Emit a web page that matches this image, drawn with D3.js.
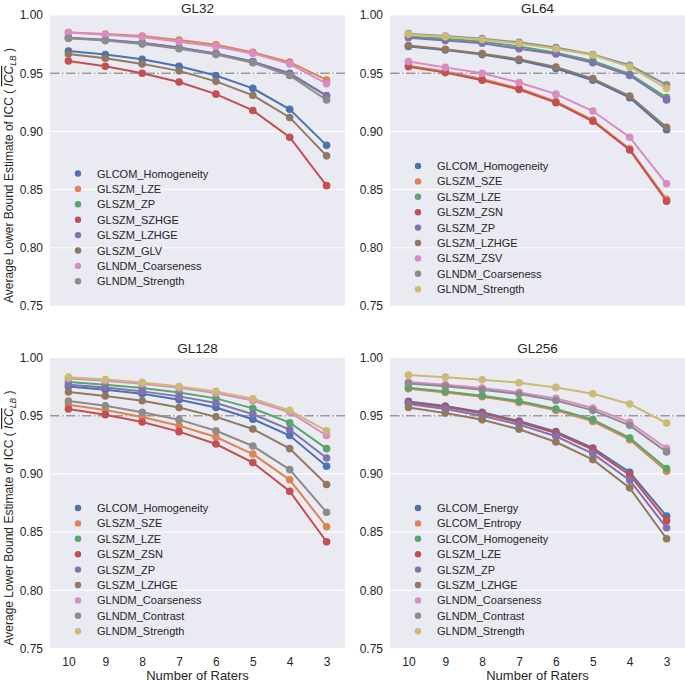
<!DOCTYPE html>
<html>
<head>
<meta charset="utf-8">
<script src="https://cdn.jsdelivr.net/npm/d3@7"></script>
<style>
  html, body { margin: 0; padding: 0; background: #fff; }
  svg { display: block; font-family: Arial, "Liberation Sans", sans-serif; }
</style>
</head>
<body>
<svg id="chart" width="685" height="681"></svg>
<script>
// ---------- data ----------
const raters = [10, 9, 8, 7, 6, 5, 4, 3];
const yTicks = [0.75, 0.80, 0.85, 0.90, 0.95, 1.00];
const threshold = 0.95;
const panelTitles = ["GL32", "GL64", "GL128", "GL256"];
const palette = ["#4C72B0", "#DD8452", "#55A868", "#C44E52", "#8172B3", "#937860", "#DA8BC3", "#8C8C8C", "#CCB974", "#64B5CD"];

const gl32Features = ["GLCOM_Homogeneity", "GLSZM_LZE", "GLSZM_ZP", "GLSZM_SZHGE", "GLSZM_LZHGE", "GLSZM_GLV", "GLNDM_Coarseness", "GLNDM_Strength"];
const gl32Values = [
  [0.969, 0.966, 0.962, 0.956, 0.948, 0.937, 0.919, 0.888],
  [0.985, 0.9837, 0.982, 0.9785, 0.9745, 0.968, 0.9595, 0.9442],
  [0.9803, 0.9786, 0.976, 0.9718, 0.9668, 0.9598, 0.9495, 0.9305],
  [0.9605, 0.956, 0.950, 0.9424, 0.932, 0.918, 0.895, 0.8534],
  [0.9805, 0.9788, 0.9762, 0.972, 0.967, 0.960, 0.950, 0.9307],
  [0.9665, 0.9628, 0.958, 0.952, 0.943, 0.931, 0.912, 0.879],
  [0.985, 0.983, 0.981, 0.977, 0.973, 0.967, 0.958, 0.941],
  [0.980, 0.978, 0.975, 0.971, 0.966, 0.959, 0.948, 0.927]
];

const gl64Features = ["GLCOM_Homogeneity", "GLSZM_SZE", "GLSZM_LZE", "GLSZM_ZSN", "GLSZM_ZP", "GLSZM_LZHGE", "GLSZM_ZSV", "GLNDM_Coarseness", "GLNDM_Strength"];
const gl64Values = [
  [0.973, 0.970, 0.966, 0.961, 0.954, 0.944, 0.929, 0.9015],
  [0.9565, 0.9515, 0.945, 0.937, 0.9257, 0.9097, 0.885, 0.8417],
  [0.9814, 0.9797, 0.977, 0.973, 0.9676, 0.9605, 0.9493, 0.929],
  [0.9556, 0.9505, 0.944, 0.936, 0.9247, 0.9087, 0.884, 0.840],
  [0.9805, 0.978, 0.9757, 0.971, 0.9665, 0.959, 0.948, 0.927],
  [0.9737, 0.9705, 0.9668, 0.962, 0.9553, 0.9453, 0.9304, 0.9035],
  [0.960, 0.955, 0.950, 0.942, 0.932, 0.9175, 0.895, 0.855],
  [0.984, 0.982, 0.9797, 0.9765, 0.972, 0.966, 0.9568, 0.940],
  [0.9834, 0.9814, 0.979, 0.9756, 0.971, 0.9656, 0.9556, 0.937]
];

const gl128Features = ["GLCOM_Homogeneity", "GLSZM_SZE", "GLSZM_LZE", "GLSZM_ZSN", "GLSZM_ZP", "GLSZM_LZHGE", "GLNDM_Coarseness", "GLNDM_Contrast", "GLNDM_Strength"];
const gl128Values = [
  [0.975, 0.9723, 0.9689, 0.9637, 0.957, 0.947, 0.933, 0.9066],
  [0.9594, 0.9549, 0.9489, 0.9414, 0.9317, 0.9171, 0.8949, 0.8546],
  [0.9789, 0.9766, 0.9737, 0.970, 0.9649, 0.9563, 0.944, 0.9217],
  [0.9557, 0.9509, 0.9446, 0.9363, 0.9257, 0.9097, 0.8851, 0.8417],
  [0.9766, 0.9743, 0.9709, 0.9666, 0.9609, 0.9514, 0.938, 0.9137],
  [0.9703, 0.9669, 0.9629, 0.957, 0.949, 0.9386, 0.9217, 0.8909],
  [0.982, 0.980, 0.9774, 0.974, 0.9694, 0.963, 0.953, 0.933],
  [0.9626, 0.9586, 0.953, 0.9466, 0.9371, 0.924, 0.9037, 0.8671],
  [0.9831, 0.9811, 0.9786, 0.9751, 0.9709, 0.9646, 0.9546, 0.937]
];

const gl256Features = ["GLCOM_Energy", "GLCOM_Entropy", "GLCOM_Homogeneity", "GLSZM_LZE", "GLSZM_ZP", "GLSZM_LZHGE", "GLNDM_Coarseness", "GLNDM_Contrast", "GLNDM_Strength"];
const gl256Values = [
  [0.9623, 0.9583, 0.9529, 0.9454, 0.9363, 0.9223, 0.9014, 0.8637],
  [0.9731, 0.970, 0.9663, 0.9614, 0.9546, 0.9451, 0.9294, 0.9023],
  [0.974, 0.9709, 0.9671, 0.9626, 0.9557, 0.9466, 0.9309, 0.9046],
  [0.9614, 0.9574, 0.952, 0.9443, 0.9351, 0.9209, 0.8991, 0.8597],
  [0.960, 0.9557, 0.950, 0.9423, 0.9323, 0.9174, 0.8946, 0.8537],
  [0.9571, 0.9523, 0.9466, 0.9383, 0.9274, 0.9123, 0.888, 0.8443],
  [0.9789, 0.9766, 0.9737, 0.970, 0.9649, 0.9566, 0.9443, 0.922],
  [0.9777, 0.9754, 0.9723, 0.9686, 0.9631, 0.9546, 0.9417, 0.9189],
  [0.9849, 0.9831, 0.9809, 0.9783, 0.9743, 0.9689, 0.960, 0.9437]
];

// ---------- layout ----------
const panels = [
  { title: panelTitles[0], names: gl32Features, values: gl32Values, x0: 50, x1: 345, y0: 15, y1: 306, titleY: 12.5, legendTop: 173.5, yLabel: true, xAxis: false },
  { title: panelTitles[1], names: gl64Features, values: gl64Values, x0: 390, x1: 685, y0: 15, y1: 306, titleY: 12.5, legendTop: 166, yLabel: false, xAxis: false },
  { title: panelTitles[2], names: gl128Features, values: gl128Values, x0: 50, x1: 345, y0: 357.5, y1: 648.5, titleY: 352.5, legendTop: 508, yLabel: true, xAxis: true },
  { title: panelTitles[3], names: gl256Features, values: gl256Values, x0: 390, x1: 685, y0: 357.5, y1: 648.5, titleY: 352.5, legendTop: 508, yLabel: false, xAxis: true }
];

const svg = d3.select("#chart");
const textColor = "#262626";

panels.forEach(p => {
  const g = svg.append("g");
  const x = d3.scalePoint().domain(raters).range([p.x0, p.x1]).padding(0.5);
  const y = d3.scaleLinear().domain([0.75, 1.0]).range([p.y1, p.y0]);

  // background
  g.append("rect").attr("x", p.x0).attr("y", p.y0)
    .attr("width", p.x1 - p.x0).attr("height", p.y1 - p.y0)
    .attr("fill", "#EAEAF2");

  // gridlines
  g.append("g").selectAll("line").data(yTicks).join("line")
    .attr("x1", p.x0).attr("x2", p.x1)
    .attr("y1", d => y(d)).attr("y2", d => y(d))
    .attr("stroke", "#fff").attr("stroke-width", 1);

  // y axis labels
  const yAxis = d3.axisLeft(y).tickValues(yTicks).tickFormat(d3.format(".2f")).tickSize(0).tickPadding(7);
  const ya = g.append("g").attr("transform", `translate(${p.x0},0)`).call(yAxis);
  ya.select(".domain").remove();
  ya.selectAll("text").attr("font-size", 12).attr("fill", textColor)
    .attr("font-family", "Arial, 'Liberation Sans', sans-serif");

  // x axis labels
  if (p.xAxis) {
    const xAxis = d3.axisBottom(x).tickSize(0).tickPadding(9);
    const xa = g.append("g").attr("transform", `translate(0,${p.y1})`).call(xAxis);
    xa.select(".domain").remove();
    xa.selectAll("text").attr("font-size", 12).attr("fill", textColor)
      .attr("font-family", "Arial, 'Liberation Sans', sans-serif");
    g.append("text").attr("x", (p.x0 + p.x1) / 2).attr("y", 679.5)
      .attr("text-anchor", "middle").attr("font-size", 13).attr("fill", textColor)
      .text("Number of Raters");
  }

  // threshold dash-dot line
  g.append("line").attr("x1", p.x0).attr("x2", p.x1)
    .attr("y1", y(threshold)).attr("y2", y(threshold))
    .attr("stroke", "#999").attr("stroke-width", 1.4)
    .attr("stroke-dasharray", "9.6,2.4,1.5,2.4");

  // title
  g.append("text").attr("x", (p.x0 + p.x1) / 2).attr("y", p.titleY)
    .attr("text-anchor", "middle").attr("font-size", 13.5).attr("fill", textColor)
    .text(p.title);

  // y label
  if (p.yLabel) {
    const cy = (p.y0 + p.y1) / 2 + 15;
    const t = g.append("text")
      .attr("transform", `translate(13,${cy}) rotate(-90)`)
      .attr("text-anchor", "middle").attr("font-size", 12).attr("fill", textColor);
    t.append("tspan").text("Average Lower Bound Estimate of ICC ( ");
    t.append("tspan").attr("font-style", "italic").attr("text-decoration", "overline").text("ICC");
    t.append("tspan").attr("font-style", "italic").attr("font-size", 8.5).attr("baseline-shift", "-3").text("LB");
    t.append("tspan").text(" )");
  }

  // series
  const line = d3.line().x((d, i) => x(raters[i])).y(d => y(d));
  p.values.forEach((vals, si) => {
    const col = palette[si];
    const sg = g.append("g");
    sg.append("path").datum(vals).attr("d", line)
      .attr("fill", "none").attr("stroke", col).attr("stroke-width", 2);
    sg.selectAll("circle").data(vals).join("circle")
      .attr("cx", (d, i) => x(raters[i])).attr("cy", d => y(d))
      .attr("r", 3.8).attr("fill", col);
  });

  // legend
  const lg = g.append("g");
  p.names.forEach((name, i) => {
    const ly = p.legendTop + i * 15.4;
    lg.append("circle").attr("cx", p.x0 + 28).attr("cy", ly).attr("r", 3.2).attr("fill", palette[i]);
    lg.append("text").attr("x", p.x0 + 47).attr("y", ly + 4)
      .attr("font-size", 11).attr("fill", textColor).text(name);
  });
});
</script>
</body>
</html>
